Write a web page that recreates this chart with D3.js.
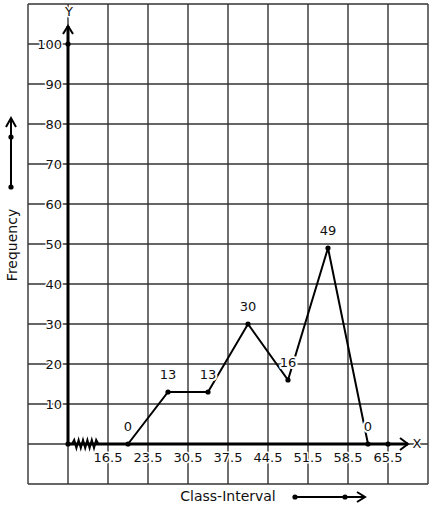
<!DOCTYPE html>
<html><head><meta charset="utf-8">
<script src="https://cdn.jsdelivr.net/npm/d3@7/dist/d3.min.js"></script>
<style>body{margin:0;background:#fff;} svg{display:block;font-family:"DejaVu Sans",sans-serif;}</style>
</head><body><svg id="c" width="433" height="510"></svg>
<script>
const classMarks = [20, 27, 34, 41, 48, 55, 62];
const frequencies = [0, 13, 13, 30, 16, 49, 0];
const xTickLabels = [16.5, 23.5, 30.5, 37.5, 44.5, 51.5, 58.5, 65.5];
const yTickLabels = [10, 20, 30, 40, 50, 60, 70, 80, 90, 100];
const xTitle = "Class-Interval";
const yTitle = "Frequency";

const svg = d3.select("#c");
const x = d3.scaleLinear().domain([2.5, 72.5]).range([28, 428]);
const y = d3.scaleLinear().domain([-10, 110]).range([484, 4]);
const x0 = 9.5;
const gridCol = "#333";

// grid
const g = svg.append("g");
d3.range(2.5, 72.6, 7).forEach(v => g.append("line").attr("x1", x(v)).attr("x2", x(v)).attr("y1", y(110)).attr("y2", y(-10)).attr("stroke", gridCol).attr("stroke-width", 1.4));
d3.range(-10, 111, 10).forEach(v => g.append("line").attr("x1", x(2.5)).attr("x2", x(72.5)).attr("y1", y(v)).attr("y2", y(v)).attr("stroke", gridCol).attr("stroke-width", 1.4));

function halo(sel){ return sel.attr("stroke","#fff").attr("stroke-width",3).attr("paint-order","stroke").attr("stroke-linejoin","round"); }

// y tick labels
yTickLabels.forEach(v => halo(svg.append("text").attr("x", 62).attr("y", y(v)).attr("dy", "0.35em").attr("text-anchor", "end").attr("font-size", 13).attr("fill", "#111").text(v)));
// x tick labels
xTickLabels.forEach(v => halo(svg.append("text").attr("x", x(v)).attr("y", 462).attr("text-anchor", "middle").attr("font-size", 13).attr("fill", "#111").text(v)));

// axes
const ax = svg.append("g").attr("stroke", "#000").attr("fill", "none");
ax.append("line").attr("x1", x(x0)).attr("x2", 408).attr("y1", y(0)).attr("y2", y(0)).attr("stroke-width", 3);
ax.append("polyline").attr("points", `400,438 408,444 400,450`).attr("stroke-width", 2);
ax.append("line").attr("x1", x(x0)).attr("x2", x(x0)).attr("y1", y(0)).attr("y2", 26).attr("stroke-width", 3);
ax.append("polyline").attr("points", `${x(x0)-5},34 ${x(x0)},26 ${x(x0)+5},34`).attr("stroke-width", 2);
// zigzag
const zz = [];
for (let i = 0; i <= 12; i++) zz.push([72 + i * 2.2, y(0) + (i === 0 || i === 12 ? 0 : (i % 2 ? -4 : 4))]);
ax.append("path").attr("d", d3.line()(zz)).attr("stroke-width", 2);

halo(svg.append("text").attr("x", 69).attr("y", 16).attr("text-anchor", "middle").attr("font-size", 13).attr("fill", "#111").text("Y"));
halo(svg.append("text").attr("x", 417).attr("y", 448).attr("text-anchor", "middle").attr("font-size", 13).attr("fill", "#111").text("X"));

// polygon
svg.append("path").datum(classMarks.map((c, i) => [c, frequencies[i]]))
  .attr("d", d3.line().x(d => x(d[0])).y(d => y(d[1])))
  .attr("fill", "none").attr("stroke", "#000").attr("stroke-width", 2);
// labels
classMarks.forEach((c, i) => halo(svg.append("text").attr("x", x(c)).attr("y", y(frequencies[i]) - 13).attr("text-anchor", "middle").attr("font-size", 13).attr("fill", "#111").text(frequencies[i])).attr("stroke-width", 4));
// dots
const dots = classMarks.map((c, i) => [x(c), y(frequencies[i])]).concat([[x(x0), y(0)], [x(65.5), y(0)], [x(x0), y(100)]]);
svg.selectAll("circle.d").data(dots).join("circle").attr("cx", d => d[0]).attr("cy", d => d[1]).attr("r", 2.6).attr("fill", "#000");

// titles
svg.append("text").attr("transform", "translate(17,245) rotate(-90)").attr("text-anchor", "middle").attr("font-size", 14).attr("fill", "#111").text(yTitle);
svg.append("text").attr("x", 228).attr("y", 501).attr("text-anchor", "middle").attr("font-size", 14).attr("fill", "#111").text(xTitle);

// legend arrows
const la = svg.append("g").attr("stroke", "#000").attr("fill", "none").attr("stroke-width", 2);
la.append("line").attr("x1", 11).attr("x2", 11).attr("y1", 187).attr("y2", 118);
la.append("polyline").attr("points", "6,127 11,118 16,127");
svg.append("circle").attr("cx", 11).attr("cy", 187).attr("r", 2.6);
svg.append("circle").attr("cx", 11).attr("cy", 137).attr("r", 2.6);
la.append("line").attr("x1", 295).attr("x2", 365).attr("y1", 497).attr("y2", 497);
la.append("polyline").attr("points", "357,492 365,497 357,502");
svg.append("circle").attr("cx", 295).attr("cy", 497).attr("r", 2.6);
svg.append("circle").attr("cx", 345).attr("cy", 497).attr("r", 2.6);
</script></body></html>
